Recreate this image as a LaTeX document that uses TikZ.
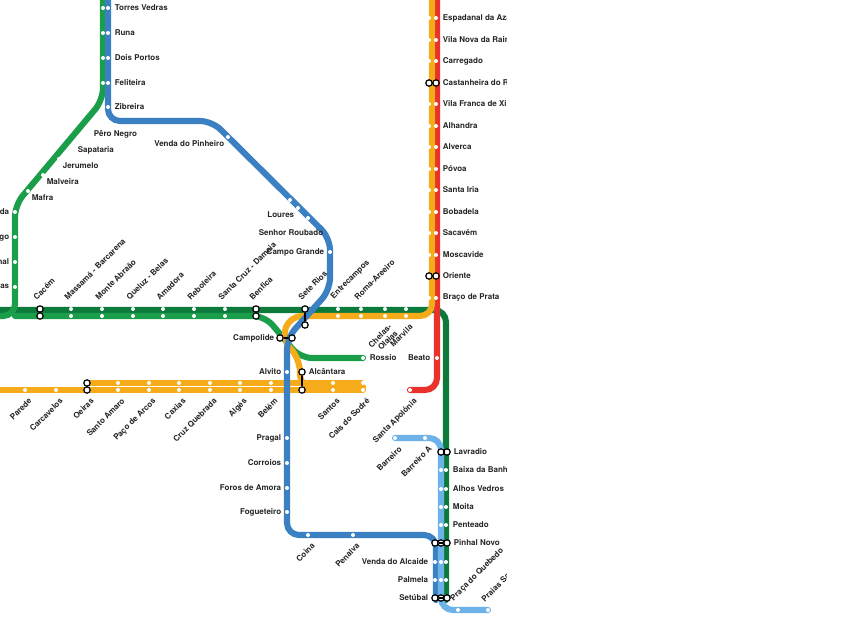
\documentclass[tikz,border=0pt]{standalone}
\usepackage{fontspec}
\setmainfont{TeX Gyre Heros}
\definecolor{dkgreen}{RGB}{12,122,58}
\definecolor{ltgreen}{RGB}{26,158,74}
\definecolor{metorange}{RGB}{246,171,26}
\definecolor{metred}{RGB}{232,50,43}
\definecolor{metblue}{RGB}{59,128,195}
\definecolor{skyblue}{RGB}{109,179,234}
\tikzset{every picture/.style={line width=0.75pt}}
\tikzset{
	track/.style={line width=4.6pt, line cap=round, rounded corners=9pt},
	stn/.style={circle, fill=white, inner sep=0pt, minimum size=3pt},
	xstn/.style={circle, fill=white, draw=black, line width=0.9pt, inner sep=0pt, minimum size=4.8pt},
	xbar/.style={line width=1.8pt, black},
	lbl/.style={font=\fontsize{6}{6.5}\selectfont\bfseries, text=black!85, inner sep=1pt},
	rlbl/.style={lbl, rotate=45}
}

\begin{document}
\begin{tikzpicture}[x=0.75pt,y=0.75pt,yscale=-1,xscale=1]
	\useasboundingbox (0,0) rectangle (850,620);
	\clip (0,0) rectangle (506,620);

	% Lines
	\draw[track, dkgreen] (0,310) -- (446,310) -- (446,600);
	\draw[track, ltgreen] (103,0) -- (103,100) -- (15,205) -- (15,316) -- (0,316);
	\draw[track, ltgreen] (15,316) -- (265,316) -- (300,358) -- (363,358);
	\draw[track, metred] (437,0) -- (437,390) -- (410,390);
	\draw[track, metorange] (432,0) -- (432,316) -- (290,316) -- (282,338) -- (300,360) -- (300,387) -- (363,387);
	\draw[line width=4.6pt, metorange] (87,383) -- (363,383);
	\draw[track, metorange] (0,390) -- (363,390);
	\draw[track, metblue] (108,0) -- (108,121) -- (212,121) -- (330,238) -- (330,290) -- (287,338) -- (287,535) -- (436,535) -- (436,600);
	\draw[track, skyblue] (395,438) -- (441,438) -- (441,610) -- (488,610);

	% Stations, upper right
	\foreach \y/\name [count=\i] in {18/Espadanal da Azar, 40/Vila Nova da Rainha, 61/Carregado, 104/Vila Franca de Xira, 126/Alhandra, 147/Alverca, 169/Póvoa, 190/Santa Iria, 212/Bobadela, 233/Sacavém, 255/Moscavide, 298/Braço de Prata} {
		\node[stn] (ora\i) at (429,\y) {};
		\node[stn] (red\i) at (436,\y) {};
		\node[lbl, anchor=west] (nl\i) at (441,\y) {\name};
	}
	\foreach \y/\name [count=\i] in {83/Castanheira do Ribatejo, 276/Oriente} {
		\node[xstn] (xa\i) at (429,\y) {};
		\node[xstn] (xb\i) at (436,\y) {};
		\draw[xbar] (xa\i) -- (xb\i);
		\node[lbl, anchor=west] (xl\i) at (441,\y) {\name};
	}

	% Stations, top
	\foreach \y/\name [count=\i] in {8/Torres Vedras, 33/Runa, 58/Dois Portos, 83/Feliteira, 107/Zibreira} {
		\node[stn] (tg\i) at (103,\y) {};
		\node[stn] (tb\i) at (108,\y) {};
		\node[lbl, anchor=west] (tl\i) at (113,\y) {\name};
	}
	\foreach \x/\y/\name [count=\i] in {90/127/Pêro Negro, 74/143/Sapataria, 59/159/Jerumelo, 43/175/Malveira, 28/191/Mafra} {
		\node[stn] (dg\i) at (\x,\y) {};
		\node[lbl, anchor=north west] (dl\i) at (\x+2,\y+2) {\name};
	}
	\foreach \y/\name [count=\i] in {212/Tapada, 237/Sabugo, 262/Pinhal, 287/Praças} {
		\node[stn] (wg\i) at (15,\y) {};
		\node[lbl, anchor=east] (wl\i) at (11,\y) {\name};
	}
	\node[stn] (vp) at (228,137) {};
	\node[lbl, anchor=north east] (vpl) at (226,139) {Venda do Pinheiro};
	\foreach \x/\y [count=\i] in {290/200, 298/208, 308/218} {
		\node[stn] (ls\i) at (\x,\y) {};
	}
	\node[lbl, anchor=east] (lsl) at (296,215) {Loures};
	\node[stn] (cg) at (330,252) {};
	\node[lbl, anchor=east] (srl) at (325,233) {Senhor Roubado};
	\node[lbl, anchor=east] (cgl) at (326,252) {Campo Grande};

	% Stations, horizontal line
	\foreach \x/\name [count=\i] in {71/Massamá - Barcarena, 102/Monte Abraão, 133/Queluz - Belas, 163/Amadora, 194/Reboleira, 225/Santa Cruz - Damaia, 338/Entrecampos, 361/Roma-Areeiro} {
		\node[stn] (ha\i) at (\x,309) {};
		\node[stn] (hb\i) at (\x,316) {};
		\node[rlbl, anchor=south west] (hl\i) at (\x-3,303) {\name};
	}
	\foreach \x/\name [count=\i] in {40/Cacém, 256/Benfica} {
		\node[xstn] (hxa\i) at (\x,309) {};
		\node[xstn] (hxb\i) at (\x,316) {};
		\draw[xbar] (hxa\i) -- (hxb\i);
		\node[rlbl, anchor=south west] (hxl\i) at (\x-3,303) {\name};
	}
	\node[xstn] (sra) at (305,309) {};
	\node[xstn] (srb) at (305,325) {};
	\draw[xbar] (sra) -- (srb);
	\node[rlbl, anchor=south west] (srnl) at (302,303) {Sete Rios};
	\foreach \x/\name [count=\i] in {385/{Chelas-\\Olaias}, 406/Marvila} {
		\node[stn] (ca\i) at (\x,309) {};
		\node[stn] (cb\i) at (\x,316) {};
		\node[rlbl, anchor=north east, align=right] (cl\i) at (\x+3,321) {\name};
	}
	\node[xstn] (cpa) at (280,338) {};
	\node[xstn] (cpb) at (292,338) {};
	\draw[xbar] (cpa) -- (cpb);
	\node[lbl, anchor=east] (cpl) at (276,338) {Campolide};
	\node[stn] (ro) at (363,358) {};
	\node[lbl, anchor=west] (rol) at (368,358) {Rossio};
	\node[stn] (be) at (437,358) {};
	\node[lbl, anchor=east] (bel) at (432,358) {Beato};
	\node[stn] (al) at (287,372) {};
	\node[lbl, anchor=east] (all) at (283,372) {Alvito};
	\node[xstn] (aca) at (302,372) {};
	\node[xstn] (acb) at (302,390) {};
	\draw[xbar] (aca) -- (acb);
	\node[lbl, anchor=west] (acl) at (307,372) {Alcântara};

	% Stations, lower orange line
	\foreach \x/\name [count=\i] in {25/Parede, 56/Carcavelos} {
		\node[stn] (pa\i) at (\x,390) {};
		\node[rlbl, anchor=north east] (pl\i) at (\x+3,395) {\name};
	}
	\foreach \x/\name [count=\i] in {118/Santo Amaro, 149/Paço de Arcos, 179/Caxias, 210/Cruz Quebrada, 240/Algés, 271/Belém, 333/Santos, 363/Cais do Sodré} {
		\node[stn] (oa\i) at (\x,383) {};
		\node[stn] (ob\i) at (\x,390) {};
		\node[rlbl, anchor=north east] (ol\i) at (\x+3,395) {\name};
	}
	\node[xstn] (oea) at (87,383) {};
	\node[xstn] (oeb) at (87,390) {};
	\draw[xbar] (oea) -- (oeb);
	\node[rlbl, anchor=north east] (oel) at (90,395) {Oeiras};
	\node[stn] (sa) at (410,390) {};
	\node[rlbl, anchor=north east] (sal) at (413,395) {Santa Apolónia};

	% Stations, south
	\foreach \y/\name [count=\i] in {438/Pragal, 463/Corroios, 488/Foros de Amora, 512/Fogueteiro} {
		\node[stn] (sb\i) at (287,\y) {};
		\node[lbl, anchor=east] (sbl\i) at (283,\y) {\name};
	}
	\foreach \x/\name [count=\i] in {308/Coina, 353/Penalva} {
		\node[stn] (cp\i) at (\x,535) {};
		\node[rlbl, anchor=north east] (cpl\i) at (\x+3,540) {\name};
	}
	\foreach \x/\name [count=\i] in {395/Barreiro, 425/Barreiro A} {
		\node[stn] (ba\i) at (\x,438) {};
		\node[rlbl, anchor=north east] (bal\i) at (\x+3,443) {\name};
	}
	\foreach \y/\name [count=\i] in {470/Baixa da Banheira, 489/Alhos Vedros, 507/Moita, 525/Penteado} {
		\node[stn] (mb\i) at (441,\y) {};
		\node[stn] (mg\i) at (446,\y) {};
		\node[lbl, anchor=west] (ml\i) at (451,\y) {\name};
	}
	\node[xstn] (lva) at (441,452) {};
	\node[xstn] (lvb) at (447,452) {};
	\draw[xbar] (lva) -- (lvb);
	\node[lbl, anchor=west] (lvl) at (452,452) {Lavradio};
	\foreach \y/\name [count=\i] in {562/Venda do Alcaide, 580/Palmela} {
		\node[stn] (vb\i) at (435,\y) {};
		\node[stn] (vs\i) at (441,\y) {};
		\node[stn] (vg\i) at (446,\y) {};
		\node[lbl, anchor=east] (vl\i) at (430,\y) {\name};
	}
	\foreach \y [count=\i] in {543, 598} {
		\node[xstn] (pa\i) at (435,\y) {};
		\node[xstn] (pb\i) at (441,\y) {};
		\node[xstn] (pc\i) at (447,\y) {};
		\draw[xbar] (pa\i) -- (pc\i);
	}
	\node[lbl, anchor=west] (pnl) at (452,543) {Pinhal Novo};
	\node[lbl, anchor=east] (stl) at (430,598) {Setúbal};
	\foreach \x/\name [count=\i] in {458/Praça do Quebedo, 488/Praias Sado} {
		\node[stn] (pq\i) at (\x,610) {};
		\node[rlbl, anchor=south west] (pql\i) at (\x-3,605) {\name};
	}
\end{tikzpicture}
\end{document}
